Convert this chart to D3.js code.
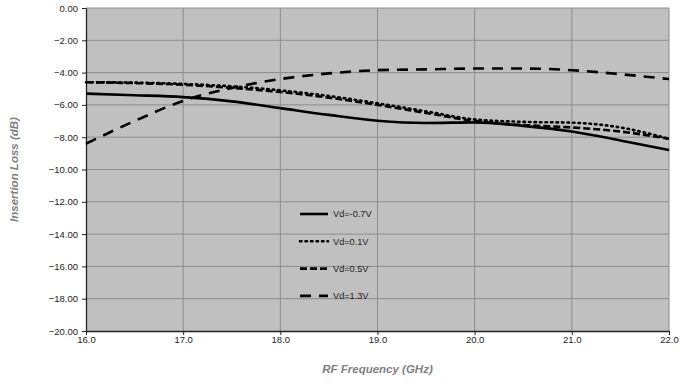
<!DOCTYPE html>
<html>
<head>
<meta charset="utf-8">
<script src="https://cdn.jsdelivr.net/npm/d3@7"></script>
<style>
  body { margin: 0; background: #fff; }
  text { font-family: Arial, "Liberation Sans", sans-serif; }
</style>
</head>
<body>
<svg id="chart" width="681" height="385"></svg>
<script>
// frequencies (GHz)
const freqs = [16.0, 16.5, 17.0, 17.5, 18.0, 18.5, 19.0, 19.5, 20.0, 20.5, 21.0, 21.5, 22.0];

// insertion loss (dB) per bias
const lossM07 = [-5.30, -5.40, -5.52, -5.78, -6.20, -6.62, -6.98, -7.12, -7.08, -7.30, -7.65, -8.20, -8.80];
const loss01  = [-4.60, -4.62, -4.70, -4.85, -5.10, -5.45, -5.90, -6.40, -6.90, -7.05, -7.10, -7.40, -8.10];
const loss05  = [-4.60, -4.65, -4.75, -4.95, -5.20, -5.55, -6.00, -6.50, -7.00, -7.25, -7.40, -7.65, -8.10];
const loss13  = [-8.40, -7.00, -5.75, -4.95, -4.40, -4.05, -3.85, -3.80, -3.75, -3.75, -3.85, -4.10, -4.40];

const seriesNames = ["Vd=-0.7V", "Vd=0.1V", "Vd=0.5V", "Vd=1.3V"];
const seriesData = [lossM07, loss01, loss05, loss13];
const dashes = [null, "1.5,4", "7,3", "11,8"];

const xTicks = [16, 17, 18, 19, 20, 21, 22];
const yTicks = [0, -2, -4, -6, -8, -10, -12, -14, -16, -18, -20];

const svg = d3.select("#chart");
const plotL = 86, plotR = 669, plotT = 8, plotB = 331;

const x = d3.scaleLinear().domain([16, 22]).range([plotL, plotR]);
const y = d3.scaleLinear().domain([-20, 0]).range([plotB, plotT]);

svg.append("rect")
  .attr("x", plotL).attr("y", plotT)
  .attr("width", plotR - plotL).attr("height", plotB - plotT)
  .attr("fill", "#c0c0c0");

// grid
svg.append("g").selectAll("line")
  .data(yTicks.slice(1, -1))
  .enter().append("line")
    .attr("x1", plotL).attr("x2", plotR)
    .attr("y1", d => y(d)).attr("y2", d => y(d))
    .attr("stroke", "#8c8c8c").attr("stroke-width", 1);
svg.append("g").selectAll("line")
  .data(xTicks.slice(1))
  .enter().append("line")
    .attr("y1", plotT).attr("y2", plotB)
    .attr("x1", d => x(d)).attr("x2", d => x(d))
    .attr("stroke", "#8c8c8c").attr("stroke-width", 1);
svg.append("line")
  .attr("x1", plotL).attr("x2", plotR).attr("y1", plotT).attr("y2", plotT)
  .attr("stroke", "#8c8c8c");

// axes
const xAxis = svg.append("g")
  .attr("transform", "translate(0," + plotB + ")")
  .call(d3.axisBottom(x).tickValues(xTicks).tickFormat(d3.format(".1f")).tickSize(4).tickSizeOuter(0));
const yAxis = svg.append("g")
  .attr("transform", "translate(" + plotL + ",0)")
  .call(d3.axisLeft(y).tickValues(yTicks).tickFormat(d3.format(".2f")).tickSize(4).tickSizeOuter(0));
[xAxis, yAxis].forEach(a => {
  a.select(".domain").attr("stroke", "#222").attr("stroke-width", 1.3);
  a.selectAll(".tick line").attr("stroke", "#222");
  a.selectAll("text").attr("font-size", 9.5).attr("fill", "#222")
    .attr("font-family", "Arial, 'Liberation Sans', sans-serif");
});
xAxis.selectAll("text").attr("y", 5).attr("dy", "0.75em");
yAxis.selectAll("text").attr("x", -8);

// lines
const line = d3.line()
  .x((d, i) => x(freqs[i]))
  .y(d => y(d))
  .curve(d3.curveMonotoneX);

svg.append("g").selectAll("path")
  .data(seriesData)
  .enter().append("path")
    .attr("d", line)
    .attr("fill", "none")
    .attr("stroke", "#000")
    .attr("stroke-width", 2.6)
    .attr("stroke-linecap", (d, i) => i === 1 ? "round" : "butt")
    .attr("stroke-dasharray", (d, i) => dashes[i]);

// legend
const legend = svg.append("g").selectAll("g")
  .data(seriesNames)
  .enter().append("g")
    .attr("transform", (d, i) => "translate(300," + (214 + i * 27.3) + ")");
legend.append("line")
  .attr("x1", 0).attr("x2", 28).attr("y1", 0).attr("y2", 0)
  .attr("stroke", "#000").attr("stroke-width", 2.6)
  .attr("stroke-linecap", (d, i) => i === 1 ? "round" : "butt")
  .attr("stroke-dasharray", (d, i) => dashes[i]);
legend.append("text")
  .attr("x", 33).attr("y", 0).attr("dy", "0.35em")
  .attr("font-size", 9.2).attr("fill", "#222")
  .text(d => d);

// axis titles
svg.append("text")
  .attr("x", (plotL + plotR) / 2).attr("y", 373)
  .attr("text-anchor", "middle")
  .attr("font-size", 11.5).attr("font-weight", "bold").attr("font-style", "italic")
  .attr("fill", "#7f7f7f")
  .text("RF Frequency (GHz)");
svg.append("text")
  .attr("transform", "translate(18," + ((plotT + plotB) / 2) + ") rotate(-90)")
  .attr("text-anchor", "middle")
  .attr("font-size", 11.5).attr("font-weight", "bold").attr("font-style", "italic")
  .attr("fill", "#7f7f7f")
  .text("Insertion Loss (dB)");
</script>
</body>
</html>
